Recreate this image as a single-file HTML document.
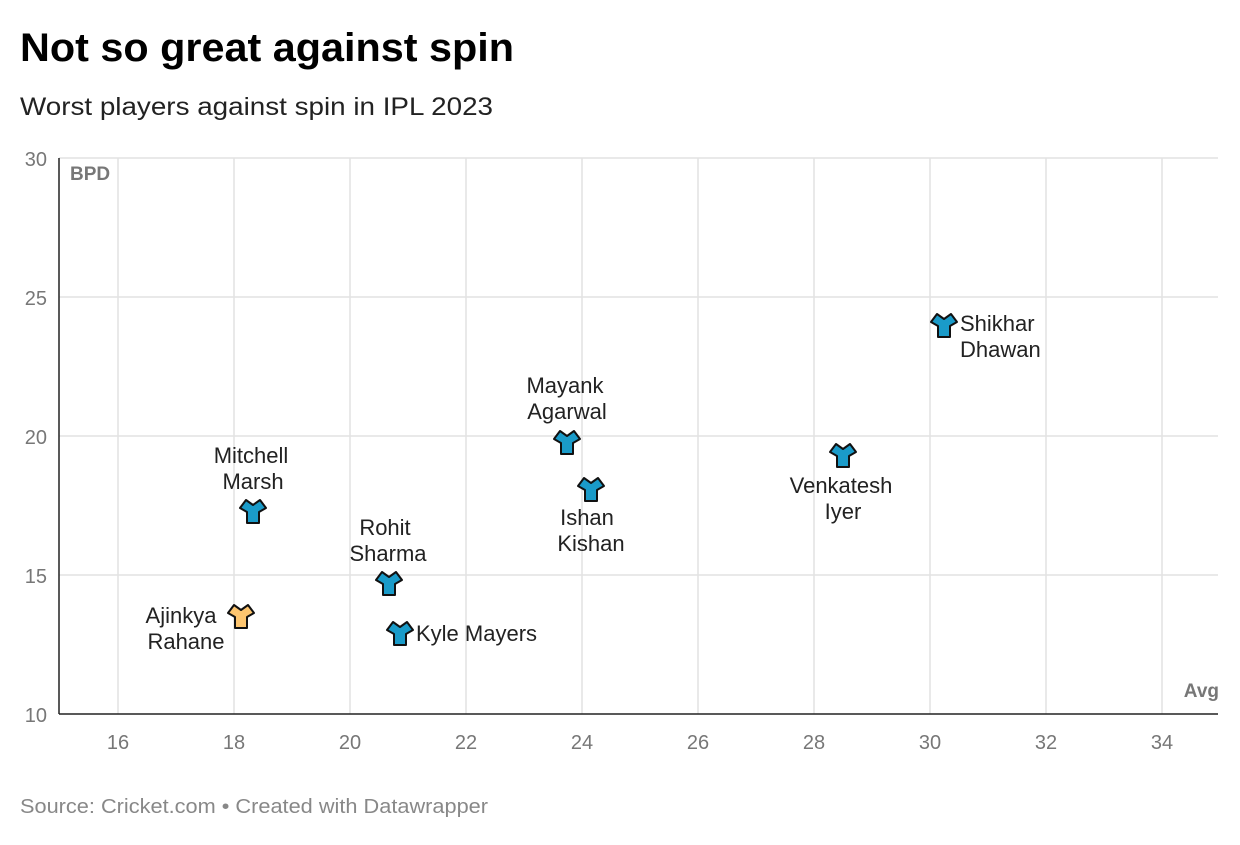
<!DOCTYPE html>
<html><head><style>
body{margin:0;background:#fff;width:1240px;height:840px;overflow:hidden;font-family:"Liberation Sans",sans-serif}
</style></head><body>
<svg width="1240" height="840" xmlns="http://www.w3.org/2000/svg" font-family="Liberation Sans, sans-serif">
<text x="20" y="61" font-size="40" font-weight="bold" fill="#000" textLength="494" lengthAdjust="spacingAndGlyphs">Not so great against spin</text>
<text x="20" y="115" font-size="25" fill="#222" textLength="473" lengthAdjust="spacingAndGlyphs">Worst players against spin in IPL 2023</text>
<g stroke="#e2e2e2" stroke-width="1.5">
<line x1="59" x2="1218" y1="158" y2="158"/><line x1="59" x2="1218" y1="297" y2="297"/>
<line x1="59" x2="1218" y1="436" y2="436"/><line x1="59" x2="1218" y1="575" y2="575"/>
<line x1="118" x2="118" y1="158" y2="714"/><line x1="234" x2="234" y1="158" y2="714"/>
<line x1="350" x2="350" y1="158" y2="714"/><line x1="466" x2="466" y1="158" y2="714"/>
<line x1="582" x2="582" y1="158" y2="714"/><line x1="698" x2="698" y1="158" y2="714"/>
<line x1="814" x2="814" y1="158" y2="714"/><line x1="930" x2="930" y1="158" y2="714"/>
<line x1="1046" x2="1046" y1="158" y2="714"/><line x1="1162" x2="1162" y1="158" y2="714"/>
</g>
<line x1="59" x2="59" y1="158" y2="714" stroke="#222" stroke-width="1.5"/>
<line x1="59" x2="1218" y1="714" y2="714" stroke="#222" stroke-width="1.5"/>
<g font-size="20" fill="#777" text-anchor="end">
<text x="47" y="166">30</text><text x="47" y="305">25</text><text x="47" y="444">20</text>
<text x="47" y="583">15</text><text x="47" y="722">10</text></g>
<g font-size="20" fill="#777" text-anchor="middle">
<text x="118" y="749">16</text><text x="234" y="749">18</text><text x="350" y="749">20</text>
<text x="466" y="749">22</text><text x="582" y="749">24</text><text x="698" y="749">26</text>
<text x="814" y="749">28</text><text x="930" y="749">30</text><text x="1046" y="749">32</text>
<text x="1162" y="749">34</text></g>
<text x="70" y="180" font-size="19" font-weight="bold" fill="#777">BPD</text>
<text x="1219" y="697" font-size="19" font-weight="bold" fill="#777" text-anchor="end">Avg</text>
<defs><path id="m" d="M-13,-3 L-7,-11 L0,-6 L7,-11 L13,-3 L6,1 L6,12 L-6,12 L-6,1 Z" stroke="#111" stroke-width="2" stroke-linejoin="round"/></defs>
<use href="#m" x="253" y="511" fill="#1a9bc9"/>
<use href="#m" x="241" y="616" fill="#fdc56f"/>
<use href="#m" x="389" y="583" fill="#1a9bc9"/>
<use href="#m" x="400" y="633" fill="#1a9bc9"/>
<use href="#m" x="567" y="442" fill="#1a9bc9"/>
<use href="#m" x="591" y="489" fill="#1a9bc9"/>
<use href="#m" x="843" y="455" fill="#1a9bc9"/>
<use href="#m" x="944" y="325" fill="#1a9bc9"/>
<g font-size="22" fill="#222" text-anchor="middle">
<text x="251" y="463">Mitchell</text><text x="253" y="489">Marsh</text>
<text x="385" y="535">Rohit</text><text x="388" y="561">Sharma</text>
<text x="565" y="393">Mayank</text><text x="567" y="419">Agarwal</text>
<text x="587" y="525">Ishan</text><text x="591" y="551">Kishan</text>
<text x="841" y="493">Venkatesh</text><text x="843" y="519">Iyer</text>
<text x="181" y="623">Ajinkya</text><text x="186" y="649">Rahane</text>
</g>
<g font-size="22" fill="#222">
<text x="416" y="641">Kyle Mayers</text>
<text x="960" y="331">Shikhar</text><text x="960" y="357">Dhawan</text>
</g>
<text x="20" y="813" font-size="20" fill="#888" textLength="468" lengthAdjust="spacingAndGlyphs">Source: Cricket.com • Created with Datawrapper</text>
</svg>
</body></html>
